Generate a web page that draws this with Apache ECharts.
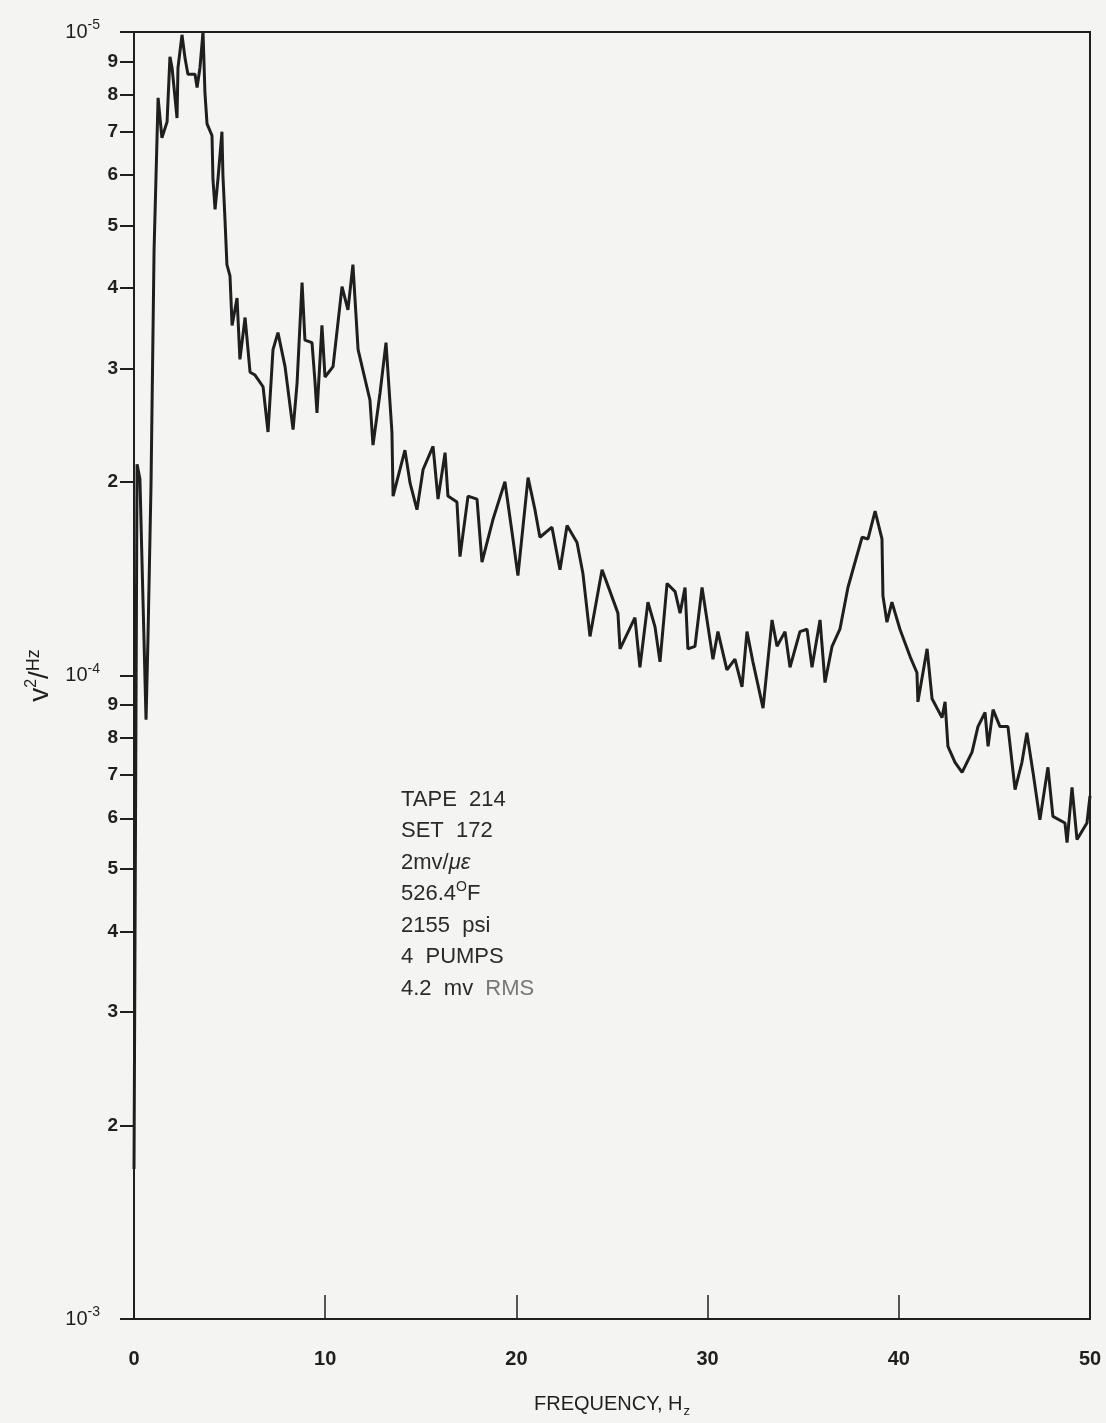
<!DOCTYPE html>
<html>
<head>
<meta charset="utf-8">
<script src="https://cdn.jsdelivr.net/npm/echarts@6/dist/echarts.min.js"></script>
<style>
html,body{margin:0;padding:0;background:#f4f4f2;}
#chart{width:1106px;height:1423px;}
</style>
</head>
<body>
<div id="chart"></div>
<script>
// Frequency (Hz)
const freq = [0, 0.16, 0.31, 0.47, 0.63, 0.73, 0.89, 1.05, 1.26, 1.46, 1.73, 1.88, 1.99, 2.25, 2.30, 2.51, 2.67, 2.82, 3.19, 3.30,
  3.45, 3.61, 3.71, 3.82, 4.08, 4.13, 4.24, 4.39, 4.60, 4.65, 4.76, 4.86, 5.02, 5.13, 5.39, 5.54, 5.81, 6.07, 6.33, 6.75,
  7.01, 7.27, 7.53, 7.90, 8.32, 8.53, 8.79, 8.94, 9.31, 9.47, 9.57, 9.83, 9.99, 10.41, 10.88, 11.19, 11.45, 11.72, 12.34, 12.50,
  12.87, 13.18, 13.49, 13.55, 14.17, 14.44, 14.80, 15.12, 15.64, 15.90, 16.27, 16.42, 16.89, 17.05, 17.47, 17.94, 18.20, 18.78, 19.40, 19.82,
  20.08, 20.61, 20.97, 21.23, 21.86, 22.28, 22.65, 23.17, 23.48, 23.85, 24.48, 24.90, 25.31, 25.42, 26.20, 26.46, 26.88, 27.25, 27.51, 27.88,
  28.30, 28.56, 28.82, 28.97, 29.34, 29.71, 29.97, 30.28, 30.54, 31.01, 31.43, 31.80, 32.06, 32.37, 32.90, 33.37, 33.63, 34.05, 34.31, 34.83,
  35.20, 35.46, 35.88, 36.14, 36.51, 36.92, 37.34, 37.60, 38.08, 38.39, 38.76, 39.12, 39.17, 39.38, 39.64, 40.06, 40.59, 40.95, 41.00, 41.48,
  41.74, 42.26, 42.42, 42.57, 42.94, 43.31, 43.83, 44.14, 44.51, 44.67, 44.93, 45.29, 45.71, 46.08, 46.44, 46.70, 47.02, 47.38, 47.80, 48.06,
  48.69, 48.80, 49.06, 49.32, 49.84, 50.0];
// Spectral density, in units of the bottom decade (bottom = 1, middle = 10, top = 100)
const psd = [1.71, 21.3, 20.2, 13.1, 8.54, 11.4, 19.8, 45.9, 79, 68.5, 72.5, 91.5, 88, 73.5, 88, 99, 91, 86, 86, 82,
  88, 100, 80.5, 72, 69, 59, 53, 59, 70, 60, 51, 43.5, 41.8, 35, 38.6, 31, 36, 29.6, 29.3, 28.1,
  23.9, 32.1, 34.1, 30.2, 24.1, 28.5, 40.8, 33.2, 32.9, 28.5, 25.6, 35, 29.1, 30.2, 40.2, 37.0, 43.5, 32.1, 26.8, 22.8,
  27.5, 32.9, 23.9, 19.0, 22.4, 19.9, 18.1, 20.9, 22.7, 18.8, 22.2, 19.0, 18.6, 15.3, 19.0, 18.8, 15.0, 17.5, 20, 16.3,
  14.3, 20.3, 18.1, 16.4, 17.0, 14.6, 17.1, 16.1, 14.4, 11.5, 14.6, 13.5, 12.5, 11.0, 12.3, 10.3, 13.0, 11.9, 10.5, 13.9,
  13.5, 12.5, 13.7, 11.0, 11.1, 13.7, 12.2, 10.6, 11.7, 10.2, 10.6, 9.6, 11.7, 10.5, 8.9, 12.2, 11.1, 11.7, 10.3, 11.7,
  11.8, 10.3, 12.2, 9.75, 11.1, 11.8, 13.7, 14.6, 16.4, 16.3, 18.0, 16.3, 13.3, 12.1, 13.0, 11.8, 10.7, 10.1, 9.1, 11.0,
  9.2, 8.6, 9.1, 7.76, 7.33, 7.07, 7.6, 8.33, 8.76, 7.76, 8.85, 8.33, 8.33, 6.65, 7.33, 8.15, 7.07, 5.97, 7.2, 6.04,
  5.9, 5.5, 6.7, 5.56, 5.9, 6.5];
// Y tick values (log axis positions) and their printed labels
const yTickValues = [1, 2, 3, 4, 5, 6, 7, 8, 9, 10, 20, 30, 40, 50, 60, 70, 80, 90, 100];
const decadeLabels = {1: '-3', 10: '-4', 100: '-5'};
const xTicks = [0, 10, 20, 30, 40, 50];
const noteLines = ['TAPE  214', 'SET  172', '2mv/{it|\u03bc\u03b5}', '526.4{sup|O}F', '2155  psi', '4  PUMPS', '4.2  mv  {g|RMS}'];

const ink = '#1f1f1f';
const sans = 'Liberation Sans, Arial, sans-serif';
const chart = echarts.init(document.getElementById('chart'), null, {renderer: 'canvas'});
const series = freq.map((f, i) => [f, Math.log10(psd[i])]);

chart.setOption({
  backgroundColor: '#f4f4f2',
  animation: false,
  grid: {left: 134, right: 16, top: 32, bottom: 103, show: true, borderColor: ink, borderWidth: 2, backgroundColor: 'transparent'},
  xAxis: {
    type: 'value', min: 0, max: 50, interval: 10,
    name: '{n|FREQUENCY, H}{sub|z}', nameLocation: 'middle', nameGap: 72,
    nameTextStyle: {rich: {
      n: {fontFamily: sans, fontSize: 20, color: ink},
      sub: {fontFamily: sans, fontSize: 13, color: ink, padding: [14, 0, 0, 1]}
    }},
    axisLine: {show: true, lineStyle: {color: ink, width: 2}},
    axisTick: {show: true, inside: true, length: 24, lineStyle: {color: ink, width: 1.5}, customValues: xTicks},
    axisLabel: {margin: 30, fontSize: 20, fontWeight: 'bold', color: ink, fontFamily: sans, customValues: xTicks},
    splitLine: {show: false}
  },
  yAxis: {
    type: 'value', min: 0, max: 2,
    name: '{v|v}{s|2}{v|/}{h|Hz}', nameLocation: 'middle', nameGap: 78,
    nameTextStyle: {rich: {
      v: {fontSize: 28, color: ink, fontFamily: sans},
      s: {fontSize: 16, color: ink, padding: [0, 0, 16, 0], fontFamily: sans},
      h: {fontSize: 18, color: ink, padding: [0, 0, 12, 0], fontFamily: sans}
    }},
    axisLine: {show: true, lineStyle: {color: ink, width: 2}},
    axisTick: {show: true, inside: false, length: 14, lineStyle: {color: ink, width: 2}, customValues: yTickValues.map(Math.log10)},
    axisLabel: {
      margin: 16, color: ink, fontSize: 19, fontWeight: 'bold', fontFamily: sans,
      customValues: yTickValues.map(Math.log10),
      formatter: function (val) {
        const n = Math.round(Math.pow(10, val));
        if (decadeLabels[n]) return '{m|10}{e|' + decadeLabels[n] + '}';
        return String(n >= 10 ? n / 10 : n);
      },
      rich: {
        m: {fontSize: 20, fontWeight: 'normal', color: ink, fontFamily: sans},
        e: {fontSize: 14, fontWeight: 'normal', color: ink, padding: [0, 18, 13, 0], fontFamily: sans}
      }
    },
    splitLine: {show: false}
  },
  series: [{
    type: 'line', data: series, showSymbol: false, symbol: 'none',
    lineStyle: {color: ink, width: 3}, z: 5
  }],
  graphic: [{
    type: 'text', left: 401, top: 784,
    style: {
      text: noteLines.join('\n'),
      fill: '#2a2a2a', fontSize: 22, lineHeight: 31.5, fontFamily: sans,
      rich: {
        it: {fontStyle: 'italic', fontSize: 22, fill: '#2a2a2a', lineHeight: 31.5, fontFamily: sans},
        sup: {fontSize: 14, fill: '#2a2a2a', padding: [0, 0, 14, 0], lineHeight: 31.5, fontFamily: sans},
        g: {fontSize: 22, fill: '#777', lineHeight: 31.5, fontFamily: sans}
      }
    }
  }]
});
</script>
</body>
</html>
